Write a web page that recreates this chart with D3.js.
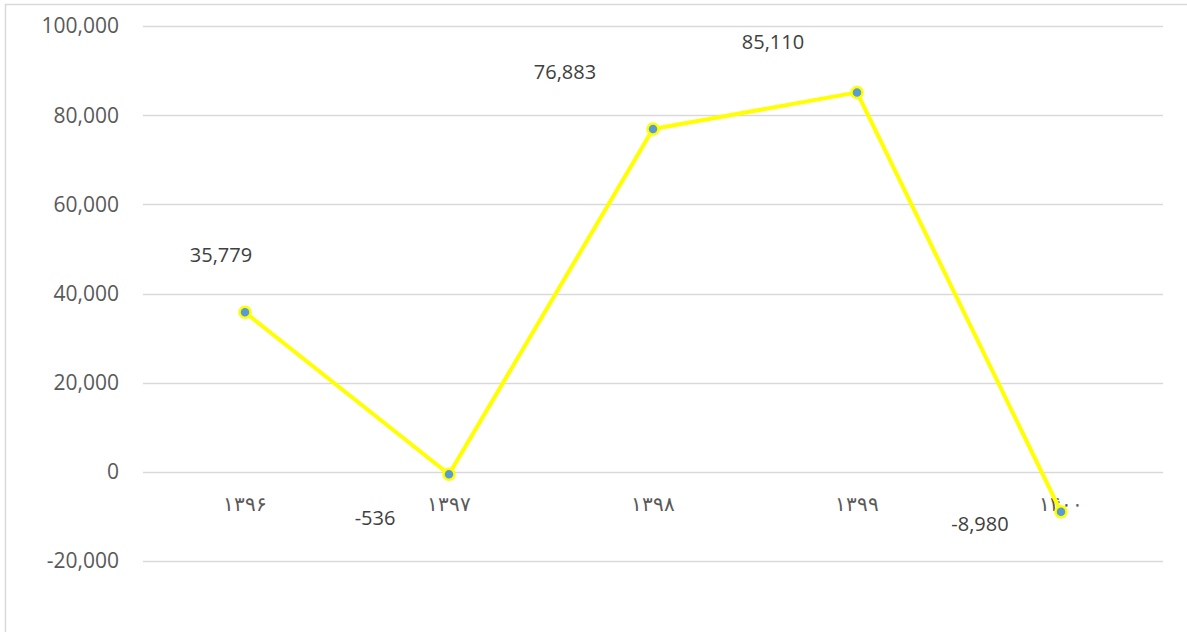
<!DOCTYPE html>
<html lang="fa">
<head>
<meta charset="UTF-8">
<title>Line chart</title>
<script src="https://d3js.org/d3.v7.min.js"></script>
<style>
    body { margin: 0; background: #fff; }
    svg { display: block; }
    .tick-label { font-family: 'Open Sans', sans-serif; font-size: 21px; fill: #595959; }
    .cat-label { font-family: 'DejaVu Sans', sans-serif; font-size: 20px; font-weight: 200; letter-spacing: 3px; fill: #595959; }
    .data-label { font-family: 'Open Sans', sans-serif; font-size: 20px; fill: #404040; }
</style>
</head>
<body>
<div id="chart"></div>
<script>
    const years = ["۱۳۹۶", "۱۳۹۷", "۱۳۹۸", "۱۳۹۹", "۱۴۰۰"];
    const values = [35779, -536, 76883, 85110, -8980];
    const yTicks = [-20000, 0, 20000, 40000, 60000, 80000, 100000];
    // manual label placement, as in the original
    const labelOffsets = [[-24, -57], [-74, 44], [-88, -57], [-84, -50], [-81, 12]];

    const W = 1187, H = 632;
    const plot = { left: 143, right: 1163, top: 26, bottom: 561 };

    const svg = d3.select("#chart").append("svg")
        .attr("width", W).attr("height", H);

    // chart border
    svg.append("rect")
        .attr("x", 5.5).attr("y", 4.5)
        .attr("width", W + 10).attr("height", H + 10)
        .attr("fill", "#fff").attr("stroke", "#d9d9d9").attr("stroke-width", 1.5);

    const x = d3.scalePoint().domain(years).range([plot.left, plot.right]).padding(0.5);
    const y = d3.scaleLinear().domain([-20000, 100000]).range([plot.bottom, plot.top]);

    // gridlines
    svg.append("g").selectAll("line")
        .data(yTicks).join("line")
        .attr("x1", plot.left).attr("x2", plot.right)
        .attr("y1", d => Math.round(y(d)) + 0.5).attr("y2", d => Math.round(y(d)) + 0.5)
        .attr("stroke", "#d9d9d9").attr("stroke-width", 1.3);

    // y tick labels (hyphen minus, like the original)
    const fmt = v => d3.format(",")(v).replace("\u2212", "-");
    svg.append("g").selectAll("text")
        .data(yTicks).join("text")
        .attr("class", "tick-label")
        .attr("x", 119).attr("y", d => y(d))
        .attr("dy", "0.35em")
        .attr("text-anchor", "end")
        .text(d => fmt(d));

    // category labels below zero line
    svg.append("g").selectAll("text")
        .data(years).join("text")
        .attr("class", "cat-label")
        .attr("x", d => x(d)).attr("y", y(0) + 32)
        .attr("dy", "0.35em")
        .attr("text-anchor", "middle")
        .text(d => d);

    const pts = years.map((c, i) => ({ c, v: values[i], i }));

    const line = d3.line().x(d => x(d.c)).y(d => y(d.v));
    svg.append("path")
        .datum(pts)
        .attr("fill", "none")
        .attr("stroke", "#ffff00")
        .attr("stroke-width", 4)
        .attr("stroke-linejoin", "round")
        .attr("d", line);

    svg.append("g").selectAll("circle")
        .data(pts).join("circle")
        .attr("cx", d => x(d.c)).attr("cy", d => y(d.v))
        .attr("r", 5.5)
        .attr("fill", "#5b9bd5")
        .attr("stroke", "#ffff00")
        .attr("stroke-width", 2.5);

    svg.append("g").selectAll("text")
        .data(pts).join("text")
        .attr("class", "data-label")
        .attr("x", d => x(d.c) + labelOffsets[d.i][0])
        .attr("y", d => y(d.v) + labelOffsets[d.i][1])
        .attr("dy", "0.35em")
        .attr("text-anchor", "middle")
        .text(d => fmt(d.v));
</script>
</body>
</html>
